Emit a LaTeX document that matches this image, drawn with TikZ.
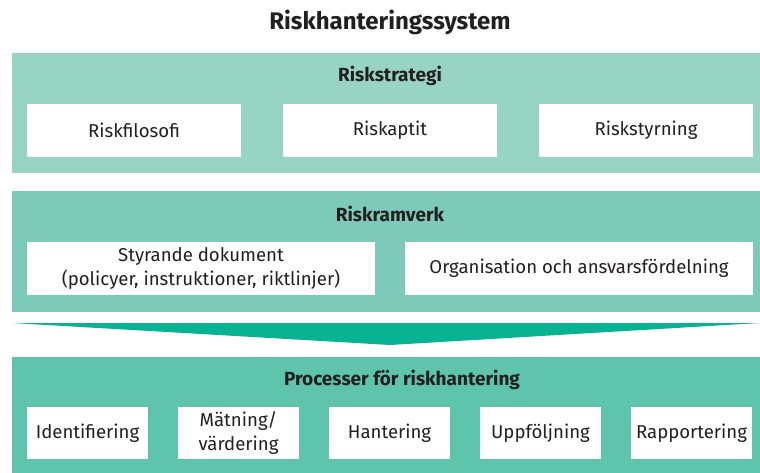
\documentclass[tikz,border=0pt]{standalone}
\usepackage{fontspec}
\setmainfont{Fira Sans}
\definecolor{band1}{HTML}{97D4C4}
\definecolor{band2}{HTML}{7DCAB8}
\definecolor{band3}{HTML}{5EC4AC}
\definecolor{pointer}{HTML}{08B394}
\definecolor{ink}{HTML}{231F20}
\tikzset{
  band/.style={fill=#1, draw=none, inner sep=0pt, minimum width=748pt},
  bandtitle/.style={text=ink, font=\fontsize{19}{22}\selectfont\bfseries},
  item/.style={fill=white, draw=none, inner sep=0pt, minimum height=53pt,
    text=ink, align=center, font=\fontsize{18.6}{23.5}\selectfont},
}
\begin{document}
\begin{tikzpicture}[x=1pt,y=-1pt]
      \useasboundingbox (0,0) rectangle (760,473);
      \node[text=ink, font=\fontsize{24}{28}\selectfont\bfseries] (title) at (390,22) {Riskhanteringssystem};
      % strategi
      \node[band=band1, minimum height=120pt] (strategy) at (386,113) {};
      \node[bandtitle] (strategyT) at (390,76) {Riskstrategi};
      \node[item, minimum width=214pt] (philosophy) at (134,130.5) {Riskfilosofi};
      \node[item, minimum width=214pt] (appetite) at (390,130.5) {Riskaptit};
      \node[item, minimum width=214pt] (governance) at (646,130.5) {Riskstyrning};
      % ramverk
      \node[band=band2, minimum height=121pt] (framework) at (386,251.5) {};
      \node[bandtitle] (frameworkT) at (390,214) {Riskramverk};
      \node[item, minimum width=348pt] (documents) at (201,268.5) {Styrande dokument\\(policyer, instruktioner, riktlinjer)};
      \node[item, minimum width=348pt] (organisation) at (579,268.5) {Organisation och ansvarsfördelning};
      % pil
      \coordinate (tipL) at (12,323);
      \coordinate (tipR) at (760,323);
      \coordinate (tipB) at (390,345);
      \fill[pointer] (tipL) -- (tipR) -- (tipB) -- cycle;
      % processer
      \node[band=band3, minimum height=116pt] (process) at (386,415) {};
      \node[bandtitle] (processT) at (402,380) {Processer för riskhantering};
      \node[item, minimum width=121pt, minimum height=52pt] (identify) at (87.5,433) {Identifiering};
      \node[item, minimum width=121pt, minimum height=52pt] (measure) at (238.5,433) {Mätning/\\värdering};
      \node[item, minimum width=121pt, minimum height=52pt] (handle) at (389.5,433) {Hantering};
      \node[item, minimum width=121pt, minimum height=52pt] (follow) at (540.5,433) {Uppföljning};
      \node[item, minimum width=121pt, minimum height=52pt] (report) at (691.5,433) {Rapportering};
    \end{tikzpicture}
\end{document}
